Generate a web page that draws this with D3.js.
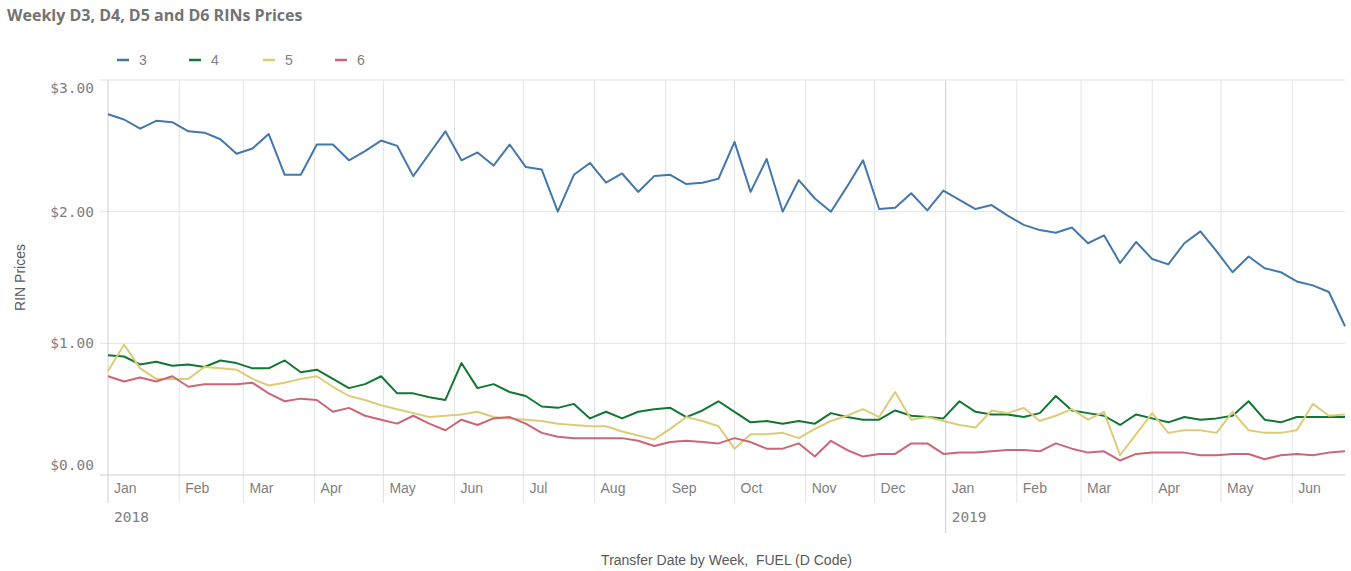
<!DOCTYPE html>
<html>
<head>
<meta charset="utf-8">
<script src="https://cdn.jsdelivr.net/npm/d3@7"></script>
<style>
  html, body { margin: 0; padding: 0; background: #fff; }
  svg { display: block; }
  text { white-space: pre; }
</style>
</head>
<body>
<svg id="chart" width="1351" height="571"></svg>
<script>
// ---- data ----
const seriesNames = ["3", "4", "5", "6"];
const seriesColors = ["#4477aa", "#117733", "#ddcc77", "#cc6677"];
const firstWeek = "2018-01-01";
const lastWeek = "2019-06-24";
const yTicks = [0, 1, 2, 3];

const d3Prices = [2.74, 2.70, 2.63, 2.69, 2.68, 2.61, 2.60, 2.55, 2.44, 2.48, 2.59, 2.28, 2.28, 2.51, 2.51, 2.39,
  2.46, 2.54, 2.50, 2.27, 2.44, 2.61, 2.39, 2.45, 2.35, 2.51, 2.34, 2.32, 2.00, 2.28, 2.37, 2.22, 2.29, 2.15,
  2.27, 2.28, 2.21, 2.22, 2.25, 2.53, 2.15, 2.40, 2.00, 2.24, 2.10, 2.00, 2.19, 2.39, 2.02, 2.03, 2.14, 2.01,
  2.16, 2.09, 2.02, 2.05, 1.97, 1.90, 1.86, 1.84, 1.88, 1.76, 1.82, 1.61, 1.77, 1.64, 1.60, 1.76, 1.85, 1.70,
  1.54, 1.66, 1.57, 1.54, 1.47, 1.44, 1.39, 1.13];
const d4Prices = [0.91, 0.90, 0.84, 0.86, 0.83, 0.84, 0.82, 0.87, 0.85, 0.81, 0.81, 0.87, 0.78, 0.80, 0.73, 0.66,
  0.69, 0.75, 0.62, 0.62, 0.59, 0.57, 0.85, 0.66, 0.69, 0.63, 0.60, 0.52, 0.51, 0.54, 0.43, 0.48, 0.43, 0.48,
  0.50, 0.51, 0.44, 0.49, 0.56, 0.48, 0.40, 0.41, 0.39, 0.41, 0.39, 0.47, 0.44, 0.42, 0.42, 0.49, 0.45, 0.44,
  0.43, 0.56, 0.48, 0.46, 0.46, 0.44, 0.47, 0.60, 0.49, 0.47, 0.45, 0.38, 0.46, 0.43, 0.40, 0.44, 0.42, 0.43,
  0.45, 0.56, 0.42, 0.40, 0.44, 0.44, 0.44, 0.44];
const d5Prices = [0.79, 0.99, 0.81, 0.73, 0.73, 0.73, 0.82, 0.81, 0.80, 0.73, 0.68, 0.70, 0.73, 0.75, 0.67, 0.60,
  0.57, 0.53, 0.50, 0.47, 0.44, 0.45, 0.46, 0.48, 0.44, 0.43, 0.42, 0.41, 0.39, 0.38, 0.37, 0.37, 0.33, 0.30,
  0.27, 0.35, 0.44, 0.41, 0.37, 0.20, 0.31, 0.31, 0.32, 0.28, 0.35, 0.41, 0.45, 0.50, 0.44, 0.63, 0.42, 0.44,
  0.41, 0.38, 0.36, 0.49, 0.47, 0.51, 0.41, 0.45, 0.50, 0.42, 0.48, 0.15, 0.31, 0.47, 0.32, 0.34, 0.34, 0.32,
  0.48, 0.34, 0.32, 0.32, 0.34, 0.54, 0.45, 0.46];
const d6Prices = [0.75, 0.71, 0.74, 0.71, 0.75, 0.67, 0.69, 0.69, 0.69, 0.70, 0.62, 0.56, 0.58, 0.57, 0.48, 0.51,
  0.45, 0.42, 0.39, 0.45, 0.39, 0.34, 0.42, 0.38, 0.43, 0.44, 0.39, 0.32, 0.29, 0.28, 0.28, 0.28, 0.28, 0.26,
  0.22, 0.25, 0.26, 0.25, 0.24, 0.28, 0.25, 0.20, 0.20, 0.24, 0.14, 0.26, 0.19, 0.14, 0.16, 0.16, 0.24, 0.24,
  0.16, 0.17, 0.17, 0.18, 0.19, 0.19, 0.18, 0.24, 0.20, 0.17, 0.18, 0.11, 0.16, 0.17, 0.17, 0.17, 0.15, 0.15,
  0.16, 0.16, 0.12, 0.15, 0.16, 0.15, 0.17, 0.18];
const seriesValues = [d3Prices, d4Prices, d5Prices, d6Prices];

// ---- layout ----
const svg = d3.select("#chart");
const L = 108, R = 1345, T = 80, B = 475;
const parse = d3.utcParse("%Y-%m-%d");
const weeks = d3.utcMonday.range(parse(firstWeek), d3.utcDay.offset(parse(lastWeek), 1));

const x = d3.scaleUtc().domain([parse(firstWeek), parse(lastWeek)]).range([L, R]);
const y = d3.scaleLinear().domain([0, 3]).range([B, T]);

const textGray = "#808080";
const numFont = "'DejaVu Sans Mono', monospace";
const txtFont = "'Liberation Sans', Arial, sans-serif";

// title
svg.append("text").attr("x", 7).attr("y", 21)
  .attr("font-family", "'Open Sans', sans-serif").attr("font-weight", 700)
  .attr("font-size", 16).attr("fill", "#737373")
  .text("Weekly D3, D4, D5 and D6 RINs Prices");

// legend
const legendX = [117, 189, 263, 335];
seriesNames.forEach((n, i) => {
  const g = svg.append("g").attr("transform", `translate(${legendX[i]},60)`);
  g.append("line").attr("x1", 0).attr("x2", 12).attr("y1", 0).attr("y2", 0)
    .attr("stroke", seriesColors[i]).attr("stroke-width", 2.5);
  g.append("text").attr("x", 22).attr("y", 5).attr("font-family", txtFont)
    .attr("font-size", 14).attr("fill", textGray).text(n);
});

// month grid + axis labels
const months = d3.utcMonth.range(parse("2018-01-01"), parse("2019-07-01"));
const gridColor = "#e4e4e4";
months.forEach(m => {
  const px = x(m);
  const isYear = m.getUTCMonth() === 0;
  if (px > L + 1) {
    svg.append("line").attr("x1", px).attr("x2", px).attr("y1", T).attr("y2", isYear ? 533 : 503)
      .attr("stroke", isYear ? "#cfcfcf" : gridColor).attr("stroke-width", 1);
  }
  svg.append("text").attr("x", Math.max(px, L) + 6).attr("y", 493)
    .attr("font-family", txtFont).attr("font-size", 14).attr("fill", textGray)
    .text(d3.utcFormat("%b")(m));
  if (isYear) {
    svg.append("text").attr("x", Math.max(px, L) + 6).attr("y", 522)
      .attr("font-family", numFont).attr("font-size", 14.5).attr("fill", textGray)
      .text(d3.utcFormat("%Y")(m));
  }
});

// horizontal grid
yTicks.forEach(v => {
  if (v > 0) {
    svg.append("line").attr("x1", L - 8).attr("x2", R).attr("y1", y(v)).attr("y2", y(v))
      .attr("stroke", gridColor).attr("stroke-width", 1);
  }
  const ly = v === 3 ? y(v) + 13 : (v === 0 ? y(v) - 5 : y(v) + 5);
  svg.append("text").attr("x", L - 14).attr("y", ly).attr("text-anchor", "end")
    .attr("font-family", numFont).attr("font-size", 14.5).attr("fill", textGray)
    .text(d3.format("$.2f")(v));
});

// axes lines
svg.append("line").attr("x1", L).attr("x2", L).attr("y1", T).attr("y2", B + 28)
  .attr("stroke", "#cfcfcf");
svg.append("line").attr("x1", L - 8).attr("x2", R).attr("y1", B).attr("y2", B)
  .attr("stroke", "#cfcfcf");

// axis titles
svg.append("text").attr("transform", `translate(25,${(T + B) / 2}) rotate(-90)`)
  .attr("text-anchor", "middle").attr("font-family", txtFont).attr("font-size", 14)
  .attr("fill", "#595959").text("RIN Prices");
svg.append("text").attr("x", (L + R) / 2).attr("y", 565).attr("text-anchor", "middle")
  .attr("font-family", txtFont).attr("font-size", 14).attr("fill", "#595959")
  .text("Transfer Date by Week,  FUEL (D Code)");

// lines
const line = d3.line().x(d => x(d[0])).y(d => y(d[1]));
seriesValues.forEach((vals, i) => {
  const pts = weeks.map((w, k) => [w, vals[k]]).filter(d => d[1] != null);
  svg.append("path").datum(pts).attr("d", line).attr("fill", "none")
    .attr("stroke", seriesColors[i]).attr("stroke-width", 2)
    .attr("stroke-linejoin", "round");
});
</script>
</body>
</html>
